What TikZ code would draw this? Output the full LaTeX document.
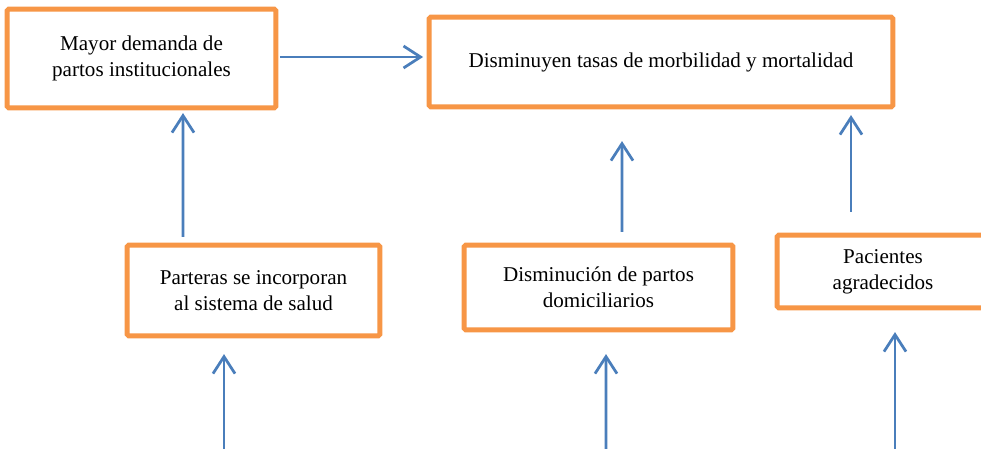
\documentclass[tikz,border=0pt]{standalone}
\usepackage{fontspec}
\setmainfont{Liberation Serif}
\usetikzlibrary{arrows.meta,calc}

\definecolor{naranja}{HTML}{F79646}
\definecolor{azul}{HTML}{4A7EBB}

\tikzset{
  caja/.style={draw=naranja, line width=0.1cm, rounded corners=1pt, fill=white,
    align=center, font=\fontsize{12}{15}\selectfont, inner sep=0pt},
  flecha/.style={draw=azul, line width=0.055cm,
    -{Straight Barb[length=0.34cm, width=0.44cm, line width=0.055cm]}},
}

\begin{document}
\begin{tikzpicture}[x=0.02cm, y=-0.02cm]
  \useasboundingbox (0,0) rectangle (981,449);

  % top row
  \node [caja, minimum width=5.38cm, minimum height=1.98cm] (demanda) at (141.5,58.5)
    {Mayor demanda de\\partos institucionales};
  \node [caja, minimum width=9.28cm, minimum height=1.80cm] (tasas) at (661,62)
    {Disminuyen tasas de morbilidad y mortalidad};

  % second row (pacientes is cut at the right edge)
  \node [caja, minimum width=5.06cm, minimum height=1.82cm] (parteras) at (253.5,290.5)
    {Parteras se incorporan\\al sistema de salud};
  \node [caja, minimum width=5.38cm, minimum height=1.70cm] (domiciliarios) at (598.5,287.5)
    {Disminución de partos\\domiciliarios};
  \node [caja, minimum width=4.24cm, minimum height=1.46cm] (pacientes) at (883,271.5)
    {Pacientes\\agradecidos};

  % arrows between boxes
  \draw [flecha] ($(demanda.east)+(1.5,-1.5)$) -- ($(tasas.west)+(-3.5,-5)$);
  \draw [flecha] ($(parteras.north)+(-70.5,-5.6)$) -- ($(demanda.south)+(41.5,2.6)$);
  \draw [flecha] ($(domiciliarios.north)+(23.5,-10.6)$) -- ($(tasas.south)+(-39,31.6)$);
  \draw [flecha] ($(pacientes.north)+(-32,-20.6)$) -- ($(tasas.south)+(190,5.6)$);

  % incoming arrows from below the picture
  \coordinate (parteras_in) at (224,452);
  \coordinate (domiciliarios_in) at (606,452);
  \coordinate (pacientes_in) at (895,452);
  \draw [flecha] (parteras_in) -- ($(parteras.south)+(-29.5,15.6)$);
  \draw [flecha] (domiciliarios_in) -- ($(domiciliarios.south)+(7.5,21.6)$);
  \draw [flecha] (pacientes_in) -- ($(pacientes.south)+(12,21.6)$);
\end{tikzpicture}
\end{document}
